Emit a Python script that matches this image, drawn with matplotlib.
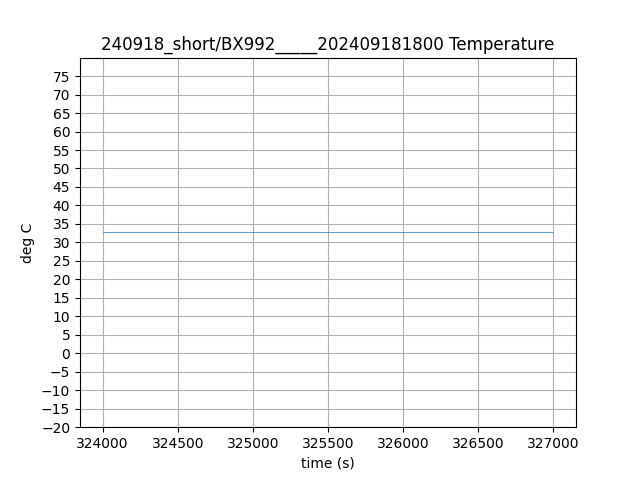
import numpy as np
import matplotlib
matplotlib.use('Agg')
import matplotlib.pyplot as plt

# readings (flat trace)
time_s = [324000, 324500, 325000, 325500, 326000, 326500, 327000]
temp_c = [32.8, 32.8, 32.8, 32.8, 32.8, 32.8, 32.8]

title = '240918_short/BX992_____202409181800 Temperature'

fig, ax = plt.subplots(figsize=(6.4, 4.8), dpi=100)
ax.plot(time_s, temp_c, linewidth=0.5)
ax.set_ylim(-20, 80)
ax.set_yticks(np.arange(-20, 80, 5))
ax.set_xlabel('time (s)')
ax.set_ylabel('deg C')
ax.set_title(title)
ax.grid(True)
fig.savefig('out.png')
